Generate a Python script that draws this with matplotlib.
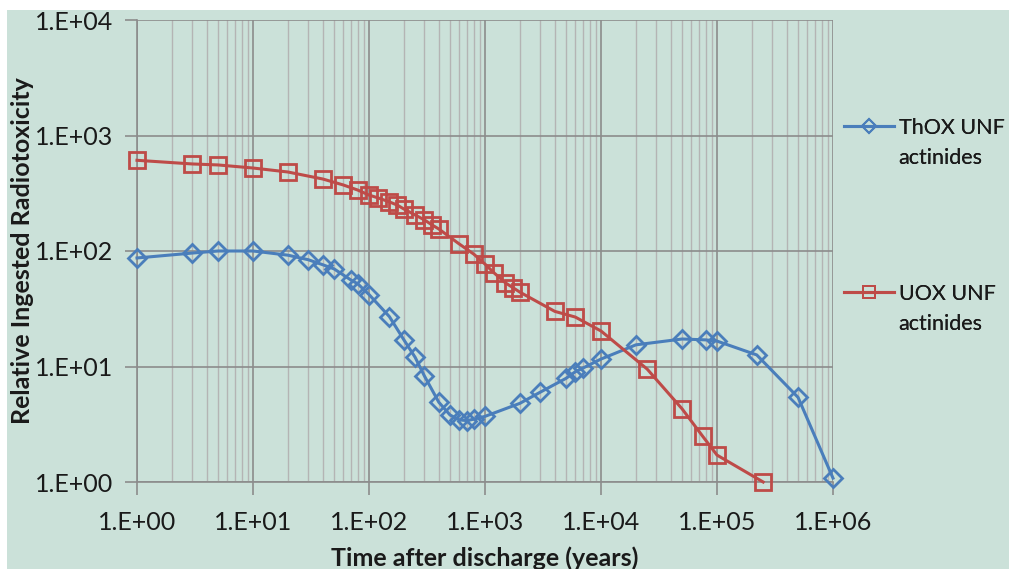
import matplotlib
matplotlib.use("Agg")
import matplotlib.pyplot as plt
from matplotlib.lines import Line2D
from matplotlib.patches import Rectangle
from matplotlib.ticker import LogLocator, FixedLocator, NullFormatter

plt.rcParams["font.family"] = ["Lato", "DejaVu Sans"]

# ThOX UNF actinides
thox_t = [1, 3, 5, 10, 20, 30, 40, 50, 70, 80, 100, 150, 200, 250, 300, 400,
          500, 600, 700, 800, 1000, 2000, 3000, 5000, 6000, 7000, 10000,
          20000, 50000, 80000, 100000, 220000, 500000, 1000000]
thox_v = [87, 96, 100, 100, 92, 84, 76, 70, 56, 52, 42, 27, 17, 12, 8.3, 4.9,
          3.8, 3.45, 3.4, 3.5, 3.7, 4.8, 6.0, 7.9, 9.0, 9.7, 11.6,
          15.4, 17.3, 17.0, 16.6, 12.6, 5.4, 1.08]

# UOX UNF actinides
uox_t = [1, 3, 5, 10, 20, 40, 60, 80, 100, 120, 150, 175, 200, 250, 300, 350,
         400, 600, 800, 1000, 1200, 1500, 1750, 2000, 4000, 6000, 10000,
         25000, 50000, 75000, 100000, 250000]
uox_v = [610, 567, 556, 523, 483, 420, 373, 337, 305, 288, 266, 250, 231, 205,
         186, 168, 155, 115, 94, 77, 64.5, 53, 48, 44, 30, 26.8, 20.3,
         9.5, 4.3, 2.5, 1.71, 1.0]

x_ticks = [1e0, 1e1, 1e2, 1e3, 1e4, 1e5, 1e6]
x_labels = ["1.E+00", "1.E+01", "1.E+02", "1.E+03", "1.E+04", "1.E+05", "1.E+06"]
y_ticks = [1e0, 1e1, 1e2, 1e3, 1e4]
y_labels = ["1.E+00", "1.E+01", "1.E+02", "1.E+03", "1.E+04"]

bg = "#cbe1d9"
blue = "#4a7ebb"
red = "#be4b48"
txt = "#1a1a1a"

fig = plt.figure(figsize=(10.09, 5.69), dpi=100, facecolor="white")
fig.patches.append(Rectangle((7 / 1009, 0), 1, 1 - 10 / 569, transform=fig.transFigure,
                             facecolor=bg, edgecolor="none", zorder=-10))
ax = fig.add_axes([137 / 1009, 1 - 482 / 569, 696 / 1009, 462 / 569])
ax.set_facecolor(bg)

ax.set_xscale("log")
ax.set_yscale("log")
ax.set_xlim(1, 1e6)
ax.set_ylim(1, 1e4)

ax.xaxis.set_major_locator(FixedLocator(x_ticks))
ax.set_xticklabels(x_labels)
ax.xaxis.set_minor_locator(LogLocator(base=10, subs=range(2, 10), numticks=20))
ax.xaxis.set_minor_formatter(NullFormatter())
ax.yaxis.set_major_locator(FixedLocator(y_ticks))
ax.set_yticklabels(y_labels)
ax.yaxis.set_minor_locator(FixedLocator([]))

ax.grid(which="major", color="#8c8c8c", linewidth=1.2)
ax.grid(which="minor", axis="x", color="#b4b4b4", linewidth=1.0)
ax.set_axisbelow(True)

for s in ["top", "right"]:
    ax.spines[s].set_visible(False)
for s in ["left", "bottom"]:
    ax.spines[s].set_color("#8c8c8c")
    ax.spines[s].set_linewidth(1.2)
ax.tick_params(which="major", length=9, width=1.2, color="#8c8c8c",
               labelsize=18, labelcolor=txt)
ax.tick_params(axis="y", pad=8)
ax.tick_params(axis="x", pad=12)
ax.tick_params(which="minor", length=0)

ax.plot(thox_t, thox_v, color=blue, linewidth=2.2, marker="D", markersize=9,
        markerfacecolor="none", markeredgecolor=blue, markeredgewidth=2,
        clip_on=False, zorder=3)
ax.plot(uox_t, uox_v, color=red, linewidth=2.2, marker="s", markersize=12,
        markerfacecolor="none", markeredgecolor=red, markeredgewidth=2,
        clip_on=False, zorder=3)

# legend: handle beside the first line of each two-line label
blank = Line2D([], [], linestyle="none")
series = [("ThOX UNF", "D", blue, 7, 109), ("UOX UNF", "s", red, 9, 275)]
for name, mk, col, ms, top in series:
    h = Line2D([], [], color=col, linewidth=2.2, marker=mk, markersize=ms,
               markerfacecolor="none", markeredgecolor=col, markeredgewidth=1.4)
    leg = fig.legend([h, blank], [name, "actinides"], loc="upper left",
                     bbox_to_anchor=(835 / 1009, 1 - top / 569), frameon=False,
                     fontsize=15.5, handlelength=2.35, handletextpad=0.2,
                     labelspacing=0.5, borderaxespad=0)
    for t in leg.get_texts():
        t.set_color(txt)
    fig.add_artist(leg)

ax.set_xlabel("Time after discharge (years)", fontsize=18, fontweight="bold",
              color=txt)
ax.xaxis.set_label_coords(0.5, -0.14)
ax.set_ylabel("Relative Ingested Radiotoxicity", fontsize=18, fontweight="bold",
              color=txt)
ax.yaxis.set_label_coords(-0.148, 0.5)

fig.savefig("out.png", dpi=100, facecolor=fig.get_facecolor())
